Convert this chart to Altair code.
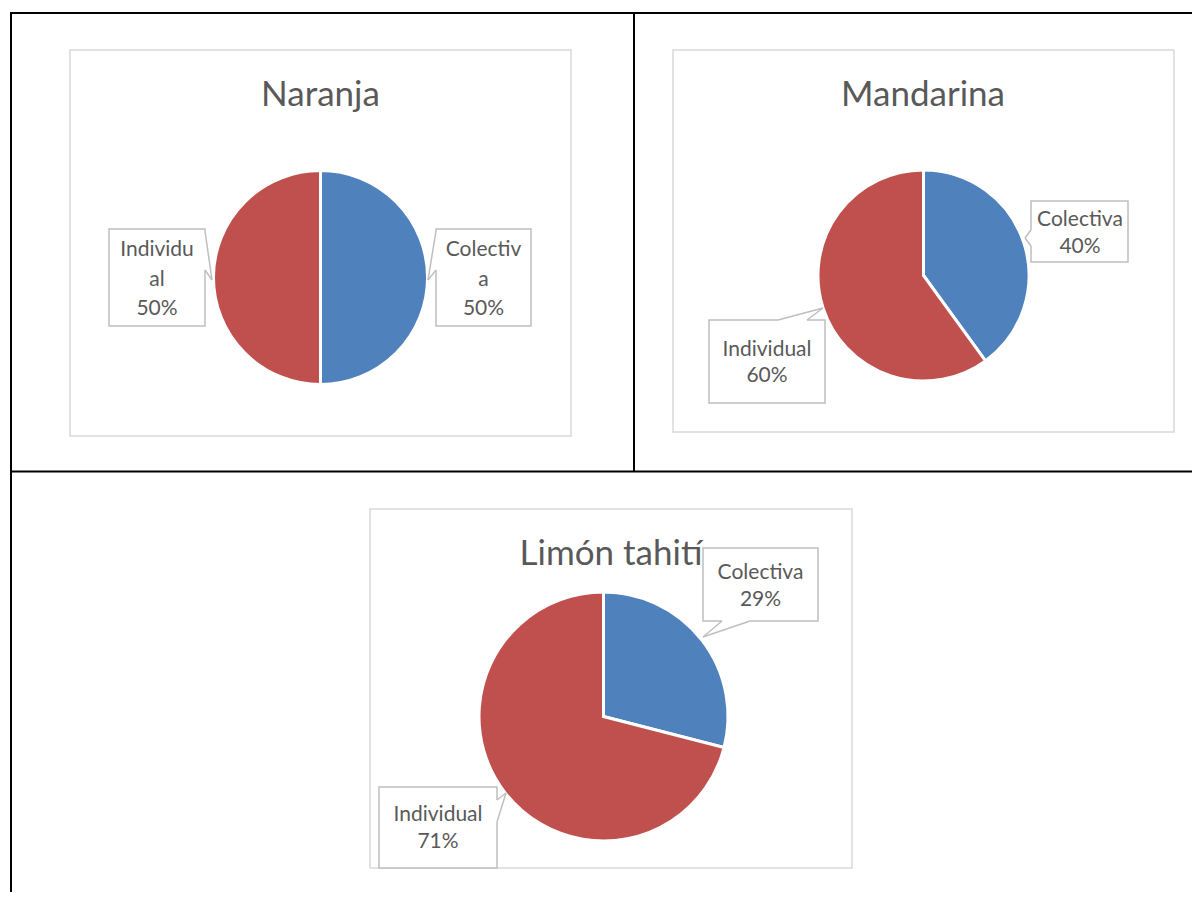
import altair as alt
import pandas as pd

# ---------------- data ----------------
fruits = ["Naranja", "Mandarina", "Limón tahití"]
categories = ["Colectiva", "Individual"]
naranja_values = [50, 50]
mandarina_values = [40, 60]
limon_values = [29, 71]
colors = ["#4F81BD", "#C0504D"]

values_by_fruit = {
    "Naranja": naranja_values,
    "Mandarina": mandarina_values,
    "Limón tahití": limon_values,
}
# Excel wrapped the narrow Naranja callouts after 8 characters
wrap_chars = {"Naranja": 8, "Mandarina": None, "Limón tahití": None}


def wrap(word, n):
    if not n:
        return word
    return "\n".join(word[i:i + n] for i in range(0, len(word), n))


rows = []
for f in fruits:
    for i, (c, v) in enumerate(zip(categories, values_by_fruit[f])):
        rows.append({"fruit": f, "category": c, "value": v, "idx": i,
                     "label": f"{wrap(c, wrap_chars[f])}\n{v}%"})
df = pd.DataFrame(rows)

# ---------------- layout (page pixels) ----------------
OFF = 8  # page margin
W, H = 1184, 884
FONT = "Lato"
TXT = "#595959"

layout = {
    "Naranja": {
        "frame": (70, 50, 571, 436), "title": (320.5, 106),
        "pie": (320.5, 277.5, 107), "lh": 29.5,
        "callouts": {
            "Individual": {"box": (109, 229, 205, 326), "text": (157, 250),
                           "wedge": ((205, 231), (205, 270), (212, 280))},
            "Colectiva": {"box": (436, 229, 531, 326), "text": (483.5, 250),
                          "wedge": ((436, 231), (436, 270), (428, 280))},
        },
    },
    "Mandarina": {
        "frame": (673, 50, 1174, 432), "title": (923, 106),
        "pie": (923.5, 275.5, 105.5), "lh": 26.5,
        "callouts": {
            "Colectiva": {"box": (1031, 201, 1128, 262), "text": (1080, 220),
                          "wedge": ((1031, 230), (1031, 246), (1025, 238))},
            "Individual": {"box": (709, 320, 825, 403), "text": (767, 349.5),
                           "wedge": ((778, 320), (807, 320), (823, 308))},
        },
    },
    "Limón tahití": {
        "frame": (370, 509, 852, 868), "title": (611, 565),
        "pie": (603.5, 716.5, 124.5), "lh": 27,
        "callouts": {
            "Colectiva": {"box": (703, 548, 818, 621), "text": (760.5, 573),
                          "wedge": ((722, 621), (750, 621), (703, 637))},
            "Individual": {"box": (379, 787, 497, 868), "text": (438, 815),
                           "wedge": ((497, 800), (497, 822), (506, 793))},
        },
    },
}

one = pd.DataFrame({"k": [0]})


def px(v):
    return v - OFF


def rule(x1, y1, x2, y2, color, width):
    return alt.Chart(one).mark_rule(color=color, strokeWidth=width).encode(
        x=alt.value(px(x1)), y=alt.value(px(y1)),
        x2=alt.value(px(x2)), y2=alt.value(px(y2)))


def rect(box, fill, stroke, width):
    x1, y1, x2, y2 = box
    return alt.Chart(one).mark_rect(fill=fill, stroke=stroke, strokeWidth=width).encode(
        x=alt.value(px(x1)), y=alt.value(px(y1)),
        x2=alt.value(px(x2)), y2=alt.value(px(y2)))


layers = []

# table borders
TB = "#000000"
layers += [
    rule(10, 13, 1200, 13, TB, 2),
    rule(11, 13, 11, 900, TB, 2),
    rule(634, 13, 634, 471.5, TB, 2),
    rule(11, 471.5, 1200, 471.5, TB, 2),
]

# chart frames
for f in fruits:
    layers.append(rect(layout[f]["frame"], "white", "#D9D9D9", 1.5))

# titles
for f in fruits:
    tx, ty = layout[f]["title"]
    layers.append(
        alt.Chart(pd.DataFrame({"fruit": [f]})).mark_text(
            font=FONT, fontSize=35, color=TXT, align="center", baseline="alphabetic"
        ).encode(text="fruit:N", x=alt.value(px(tx)), y=alt.value(px(ty)))
    )

# pies
for f in fruits:
    cx, cy, r = layout[f]["pie"]
    layers.append(
        alt.Chart(df).transform_filter(alt.datum.fruit == f).mark_arc(
            radius=r, stroke="white", strokeWidth=3
        ).encode(
            theta=alt.Theta("value:Q", stack=True),
            color=alt.Color("category:N",
                            scale=alt.Scale(domain=categories, range=colors),
                            legend=None),
            order=alt.Order("idx:Q"),
            x=alt.value(px(cx)), y=alt.value(px(cy)),
        )
    )

# callouts
for f in fruits:
    for c in categories:
        co = layout[f]["callouts"][c]
        layers.append(rect(co["box"], "white", "#BFBFBF", 1.5))
        p1, p2, t = co["wedge"]
        layers.append(rule(p1[0], p1[1], p2[0], p2[1], "white", 2.5))
        layers.append(rule(p1[0], p1[1], t[0], t[1], "#BFBFBF", 1.5))
        layers.append(rule(p2[0], p2[1], t[0], t[1], "#BFBFBF", 1.5))
        tx, ty = co["text"]
        layers.append(
            alt.Chart(df).transform_filter(
                (alt.datum.fruit == f) & (alt.datum.category == c)
            ).mark_text(
                font=FONT, fontSize=21, color=TXT, align="center", baseline="middle",
                lineBreak="\n", lineHeight=layout[f]["lh"]
            ).encode(text="label:N", x=alt.value(px(tx)), y=alt.value(px(ty)))
        )

chart = alt.layer(*layers).resolve_scale(theta="independent").properties(
    width=W, height=H, padding=0,
    autosize=alt.AutoSizeParams(type="none"),
).configure_view(stroke=None)

chart.save("out.html", embed_options={"renderer": "svg", "actions": False})
